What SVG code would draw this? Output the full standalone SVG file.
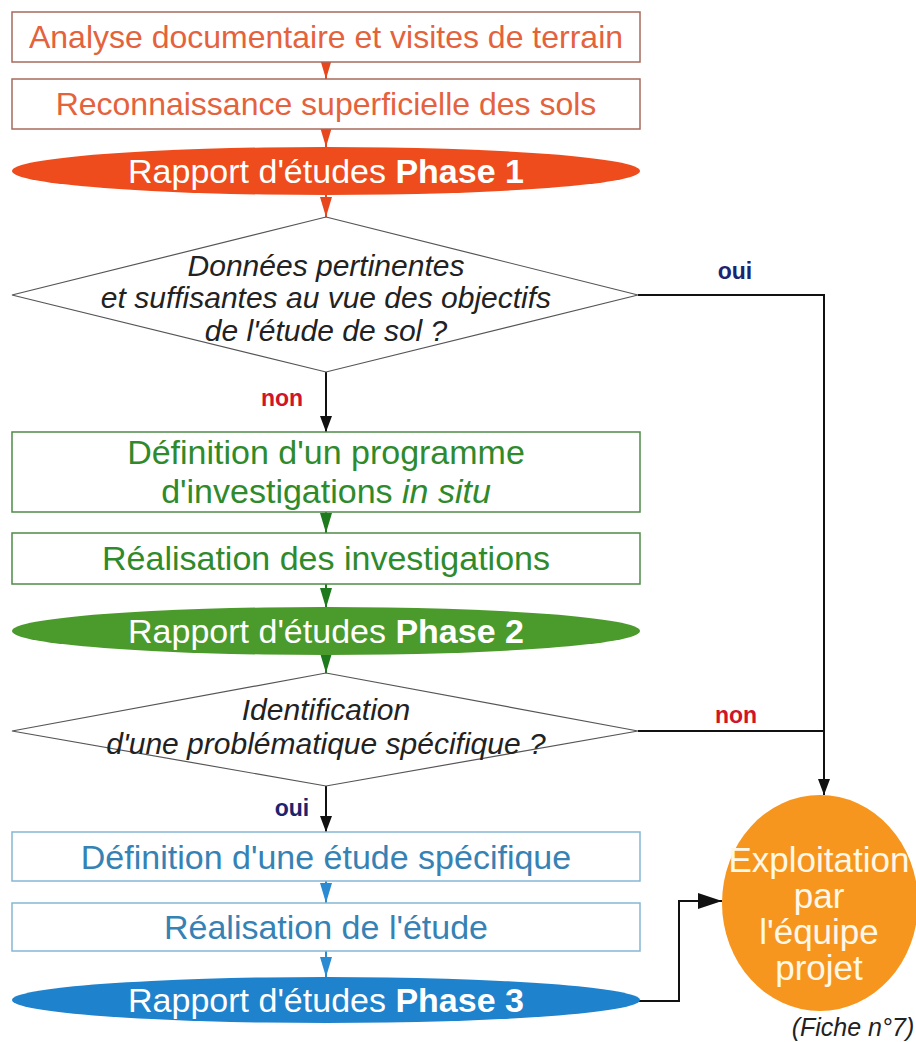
<svg xmlns="http://www.w3.org/2000/svg" width="916" height="1042" viewBox="0 0 916 1042">
<defs>
<style>
text{font-family:"Liberation Sans",Arial,sans-serif;text-anchor:middle}
.box{fill:#fff;stroke-width:1.5}
.or{stroke:#a86a5c}.ort{fill:#e4623c;font-size:32px}
.gr{stroke:#4e8c48}.grt{fill:#2f8a2c;font-size:34px}
.bl{stroke:#86b6d4}.blt{fill:#3682b4;font-size:34px}
.ell{font-size:34px;fill:#fff}
.dia{fill:#fff;stroke:#555;stroke-width:1.2}
.q{font-style:italic;font-size:30px;fill:#222}
.lbl{font-weight:bold;font-size:23px}
.con{fill:none;stroke:#111;stroke-width:2}
.c{fill:none;stroke-width:2}
.ex{font-size:35px;fill:#fff8e8}
</style>
<marker id="ab" markerUnits="userSpaceOnUse" viewBox="0 0 16 12" refX="16" refY="6" markerWidth="16" markerHeight="12" orient="auto"><path d="M0,0L16,6L0,12z" fill="#111"/></marker>
<marker id="ab2" markerUnits="userSpaceOnUse" viewBox="0 0 24 16" refX="24" refY="8" markerWidth="24" markerHeight="16" orient="auto"><path d="M0,0L24,8L0,16z" fill="#111"/></marker>
<marker id="ao" markerUnits="userSpaceOnUse" viewBox="0 0 20 12" refX="20" refY="6" markerWidth="20" markerHeight="12" orient="auto"><path d="M0,0L20,6L0,12z" fill="#e8461c"/></marker>
<marker id="ag" markerUnits="userSpaceOnUse" viewBox="0 0 20 12" refX="20" refY="6" markerWidth="20" markerHeight="12" orient="auto"><path d="M0,0L20,6L0,12z" fill="#1d7a1d"/></marker>
<marker id="au" markerUnits="userSpaceOnUse" viewBox="0 0 20 12" refX="20" refY="6" markerWidth="20" markerHeight="12" orient="auto"><path d="M0,0L20,6L0,12z" fill="#2a8ad2"/></marker>
</defs>
<rect width="916" height="1042" fill="#fff"/>

<g id="connectors">
<path class="c" stroke="#e8461c" d="M326,60V79" marker-end="url(#ao)"/>
<path class="c" stroke="#e8461c" d="M326,128V147" marker-end="url(#ao)"/>
<path class="c" stroke="#e8461c" d="M326,194V217" marker-end="url(#ao)"/>
<path class="con" d="M326,372V432" marker-end="url(#ab)"/>
<path class="con" d="M638,295H824V795" marker-end="url(#ab)"/>
<path class="c" stroke="#1d7a1d" d="M326,512V533" marker-end="url(#ag)"/>
<path class="c" stroke="#1d7a1d" d="M326,584V608" marker-end="url(#ag)"/>
<path class="c" stroke="#1d7a1d" d="M326,654V673" marker-end="url(#ag)"/>
<path class="con" d="M638,731H824"/>
<path class="con" d="M326,786V832" marker-end="url(#ab)"/>
<path class="c" stroke="#2a8ad2" d="M326,881V903" marker-end="url(#au)"/>
<path class="c" stroke="#2a8ad2" d="M326,951V977" marker-end="url(#au)"/>
<path class="con" d="M639,1001H679V901H722" marker-end="url(#ab2)"/>
</g>

<g id="n1"><rect class="box or" x="12" y="12" width="628" height="50"/><text class="ort" x="326" y="48">Analyse documentaire et visites de terrain</text></g>
<g id="n2"><rect class="box or" x="12" y="79" width="628" height="50"/><text class="ort" x="326" y="115">Reconnaissance superficielle des sols</text></g>
<g id="n3"><ellipse cx="326" cy="171" rx="314" ry="24" fill="#ee4c1c"/><text class="ell" x="326" y="183">Rapport d'études <tspan font-weight="bold">Phase 1</tspan></text></g>
<g id="d1"><path class="dia" d="M326,217L638,295L326,372L12,295z"/>
<text class="q" x="326" y="276">Données pertinentes</text>
<text class="q" x="326" y="308">et suffisantes au vue des objectifs</text>
<text class="q" x="326" y="341">de l'étude de sol ?</text></g>
<g id="l-oui1"><text class="lbl" x="735" y="279" fill="#1c2470">oui</text></g>
<g id="l-non1"><text class="lbl" x="282" y="406" fill="#d0142a">non</text></g>
<g id="n4"><rect class="box gr" x="12" y="432" width="628" height="80"/>
<text class="grt" x="326" y="464">Définition d'un programme</text>
<text class="grt" x="326" y="503">d'investigations <tspan font-style="italic">in situ</tspan></text></g>
<g id="n5"><rect class="box gr" x="12" y="533" width="628" height="51"/><text class="grt" x="326" y="570">Réalisation des investigations</text></g>
<g id="n6"><ellipse cx="326" cy="631" rx="314" ry="24" fill="#4b9a2c"/><text class="ell" x="326" y="643">Rapport d'études <tspan font-weight="bold">Phase 2</tspan></text></g>
<g id="d2"><path class="dia" d="M326,673L638,731L326,786L12,731z"/>
<text class="q" x="326" y="720">Identification</text>
<text class="q" x="326" y="754">d'une problématique spécifique ?</text></g>
<g id="l-non2"><text class="lbl" x="736" y="723" fill="#d0142a">non</text></g>
<g id="l-oui2"><text class="lbl" x="292" y="816" fill="#1c2470">oui</text></g>
<g id="n7"><rect class="box bl" x="12" y="832" width="628" height="49"/><text class="blt" x="326" y="869">Définition d'une étude spécifique</text></g>
<g id="n8"><rect class="box bl" x="12" y="903" width="628" height="48"/><text class="blt" x="326" y="939">Réalisation de l'étude</text></g>
<g id="n9"><ellipse cx="326" cy="1000" rx="314" ry="23" fill="#1f82cc"/><text class="ell" x="326" y="1012">Rapport d'études <tspan font-weight="bold">Phase 3</tspan></text></g>
<g id="n10"><ellipse cx="820" cy="903" rx="98" ry="108" fill="#f7961e"/>
<text class="ex" x="819" y="872">Exploitation</text>
<text class="ex" x="819" y="908">par</text>
<text class="ex" x="819" y="944">l'équipe</text>
<text class="ex" x="819" y="980">projet</text></g>
<g id="n11"><text x="853" y="1036" font-size="25" font-style="italic" fill="#222">(Fiche n°7)</text></g>
</svg>
